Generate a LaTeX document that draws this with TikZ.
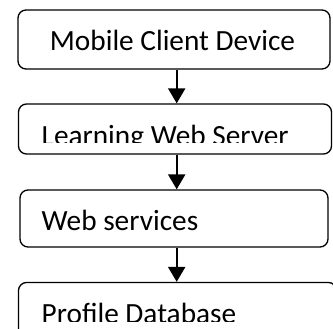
\documentclass[tikz,border=0pt]{standalone}
\usepackage{fontspec}
\setmainfont{Carlito}
\usetikzlibrary{arrows.meta,positioning}

\begin{document}
\begin{tikzpicture}[
  x=1pt, y=-1pt,
  >={Triangle[width=17pt,length=15pt]},
  box/.style={draw, line width=1.3pt, rounded corners=8pt, inner sep=0pt},
  txt/.style={font=\fontsize{29.3}{33}\selectfont, inner sep=0pt, anchor=base west},
  link/.style={->, line width=2.2pt}
]
\useasboundingbox (0,0) rectangle (333,329);
\clip (0,0) rectangle (333,329);

% Boxes
\node[box, minimum width=312pt, minimum height=59pt] (mobile) at (174,39.5) {};
\node[box, minimum width=313pt, minimum height=50pt] (server) at (175,129) {};
\node[box, minimum width=308pt, minimum height=57pt] (services) at (174,218.5) {};
\node[box, minimum width=318pt, minimum height=60pt] (database) at (177.5,312.5) {};

% Labels
\node[txt, anchor=base] (mobiletext) at (172.5,51) {Mobile Client Device};
\begin{scope}
  \clip (0,104) rectangle (333,143);
  \node[txt] (servertext) at (41.5,145.5) {Learning Web Server};
\end{scope}
\node[txt] (servicestext) at (41.5,231) {Web services};
\begin{scope}
  \clip (0,282) rectangle (333,322);
  \node[txt] (databasetext) at (41.5,324) {Profile Database};
\end{scope}

% Arrows
\draw[link] ([xshift=2.7pt]mobile.south) -- ([xshift=1.7pt]server.north);
\draw[link] ([xshift=1.7pt]server.south) -- ([xshift=2.7pt]services.north);
\draw[link] ([xshift=2.7pt]services.south) -- ([xshift=-0.8pt]database.north);

\end{tikzpicture}
\end{document}
